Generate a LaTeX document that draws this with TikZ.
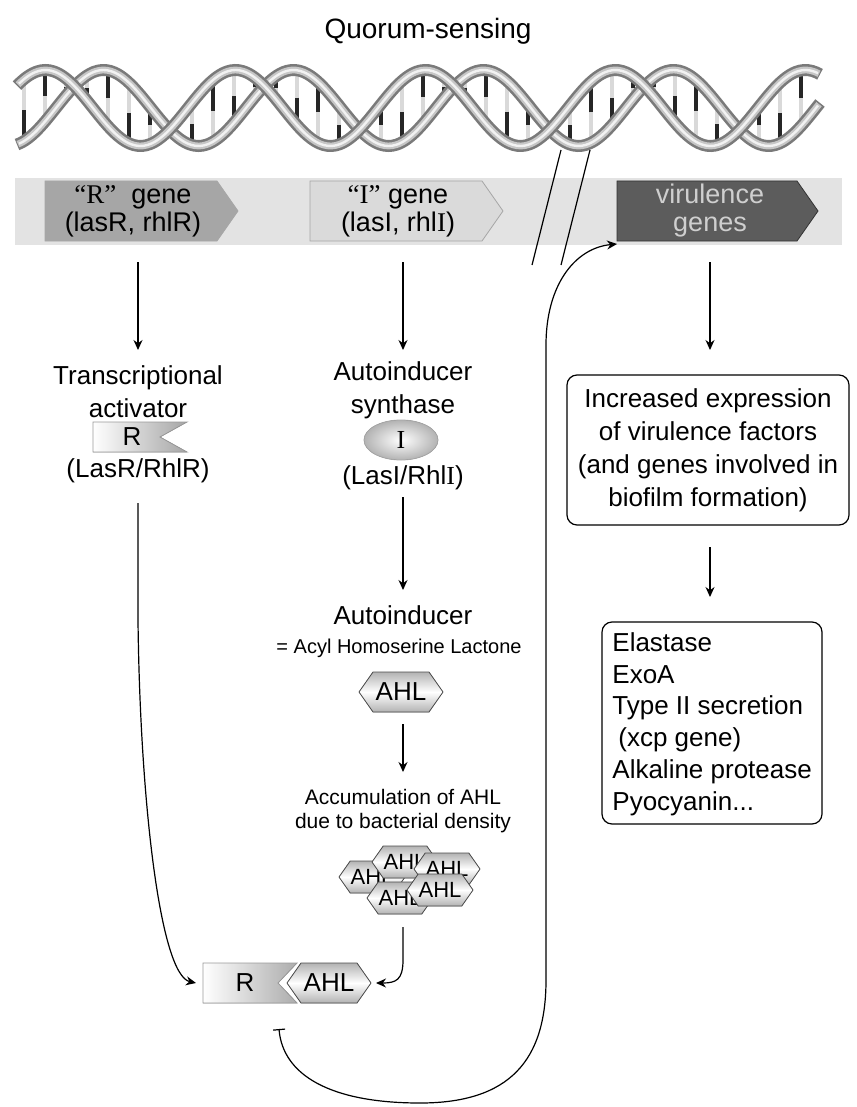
\documentclass[tikz,border=0pt]{standalone}
\usepackage{fontspec}
\setmainfont{Liberation Sans}
\newfontfamily\romanI{Liberation Serif}
\usetikzlibrary{calc, arrows.meta}

% AHL molecule as a flat hexagon: name, x, y, half width, half height, font size
\newcommand{\ahlHex}[6]{%
  \filldraw[hexFill] ({#2-#4},#3) -- ({#2-#4+0.7*#5},{#3-#5}) -- ({#2+#4-0.7*#5},{#3-#5})
    -- ({#2+#4},#3) -- ({#2+#4-0.7*#5},{#3+#5}) -- ({#2-#4+0.7*#5},{#3+#5}) -- cycle;
  \node[inner sep=0pt, font=\fontsize{#6}{#6}\selectfont] (#1) at (#2,#3) {AHL};
}

\begin{document}
\begin{tikzpicture}[x=0.5pt, y=-0.5pt,
    txt/.style={font=\fontsize{13}{16.5}\selectfont, align=center, inner sep=0pt},
    geneTxt/.style={font=\fontsize{13.5}{14}\selectfont, align=center, inner sep=0pt},
    smallTxt/.style={font=\fontsize{10.5}{12}\selectfont, align=center, inner sep=0pt},
    arr/.style={-{Stealth[length=5pt, width=4.5pt]}, line width=0.6pt},
    roundBox/.style={draw, line width=0.6pt, rounded corners=5pt, inner sep=0pt},
    hexFill/.style={draw=gray!60!black, line width=0.4pt, top color=gray!60, bottom color=gray!60, middle color=white}]
    % Define colours
    \definecolor{bandColour}{HTML}{E3E3E3}
    \definecolor{rGeneColour}{HTML}{A6A6A6}
    \definecolor{iGeneColour}{HTML}{DADADA}
    \definecolor{virGeneColour}{HTML}{5C5C5C}
    \definecolor{virTextColour}{HTML}{CFCFCF}
    \definecolor{strandColour}{HTML}{7A7A7A}

    % Macros for the double helix
    \def\dnaMid{108}    % centre line of the helix
    \def\dnaAmp{38}     % half height of the helix
    \def\dnaPeriod{190} % length of one turn
    \def\dnaShift{56}   % start of the first turn
    \def\dnaPhase{110}  % offset between the two strands

    \useasboundingbox (0,0) rectangle (856,1107);

    % Title
    \node[font=\fontsize{14}{16}\selectfont, inner sep=0pt] (title) at (428,31) {Quorum-sensing};

    % Base pairs of the helix
    \foreach \x [count=\i] in {24,45,...,815} {
        \pgfmathsetmacro{\ya}{\dnaMid-\dnaAmp*sin((\x-\dnaShift)/\dnaPeriod*360)}
        \pgfmathsetmacro{\yb}{\dnaMid-\dnaAmp*sin((\x-\dnaShift)/\dnaPeriod*360+\dnaPhase)}
        \pgfmathsetmacro{\ym}{(\ya+\yb)/2}
        \ifodd\i \def\topC{black!85}\def\botC{gray!30}\else \def\topC{gray!30}\def\botC{black!85}\fi
        \draw[line width=1.8pt, \topC] (\x,\ya) -- (\x,\ym);
        \draw[line width=1.8pt, \botC] (\x,\ym) -- (\x,\yb);
    }
    % Both strands of the helix
    \foreach \ph in {0,\dnaPhase} {
        \draw[line width=6pt, strandColour] plot[domain=17:820, samples=200, smooth]
            (\x,{\dnaMid-\dnaAmp*sin((\x-\dnaShift)/\dnaPeriod*360+\ph)});
        \draw[line width=3.4pt, gray!45] plot[domain=18:819, samples=200, smooth]
            (\x,{\dnaMid-\dnaAmp*sin((\x-\dnaShift)/\dnaPeriod*360+\ph)});
        \draw[line width=1.2pt, gray!10] plot[domain=19:818, samples=200, smooth]
            (\x,{\dnaMid-\dnaAmp*sin((\x-\dnaShift)/\dnaPeriod*360+\ph)});
    }

    % Gene band
    \fill[bandColour] (15,178) rectangle (842,245);
    \filldraw[fill=rGeneColour, draw=gray!70, line width=0.4pt] (45,181) -- (217,181) -- (238,211) -- (217,241) -- (45,241) -- cycle;
    \filldraw[fill=iGeneColour, draw=gray!70, line width=0.4pt] (310,181) -- (482,181) -- (503,211) -- (482,241) -- (310,241) -- cycle;
    \filldraw[fill=virGeneColour, draw=gray!40!black, line width=0.4pt] (617,181) -- (797,181) -- (818,211) -- (797,241) -- (617,241) -- cycle;
    \node[geneTxt] (rGene) at (133,211) {{\romanI “R”}\ \ gene\\(lasR, rhlR)};
    \node[geneTxt] (iGene) at (398,211) {{\romanI “I”} gene\\(lasI, rhl{\romanI I})};
    \node[geneTxt, text=virTextColour] (virGene) at (710,211) {virulence\\genes};

    % Break marks on the chromosome
    \draw[line width=0.6pt] (561,150) -- (532,265);
    \draw[line width=0.6pt] (590,150) -- (561,265);

    % Arrows out of the genes
    \coordinate (rGeneOut) at (138,262);
    \coordinate (iGeneOut) at (403,262);
    \coordinate (virGeneOut) at (710,262);
    \coordinate (rActIn) at (138,350);
    \coordinate (iSynIn) at (403,350);
    \coordinate (exprIn) at (710,350);
    \draw[arr] (rGeneOut) -- (rActIn);
    \draw[arr] (iGeneOut) -- (iSynIn);
    \draw[arr] (virGeneOut) -- (exprIn);

    % Transcriptional activator R
    \node[txt] (rAct) at (138,392) {Transcriptional\\activator};
    \filldraw[left color=white, right color=gray!70, draw=gray!80, line width=0.4pt] (93,422) -- (187,422) -- (160,437) -- (187,452) -- (93,452) -- cycle;
    \node[txt] (rFlag) at (132,437) {R};
    \node[txt] (rName) at (138,471) {(LasR/RhlR)};

    % Autoinducer synthase I
    \node[txt] (iSyn) at (403,390) {Autoinducer\\synthase};
    \filldraw[inner color=white, outer color=gray!60, draw=gray!70, line width=0.4pt] (401,440) ellipse [x radius=37, y radius=20];
    \node[txt, font=\fontsize{13}{14}\romanI] (iOval) at (401,440) {I};
    \node[txt] (iName) at (403,478) {(LasI/Rhl{\romanI I})};

    % Autoinducer AHL
    \coordinate (iNameOut) at (403,497);
    \coordinate (aiIn) at (403,590);
    \draw[arr] (iNameOut) -- (aiIn);
    \node[txt] (ai) at (403,615) {Autoinducer};
    \node[font=\fontsize{10}{12}\selectfont, inner sep=0pt] (aiName) at (399,648) {= Acyl Homoserine Lactone};
    \ahlHex{ahl}{401}{692}{42}{20}{13}

    % Accumulation of AHL
    \coordinate (ahlOut) at (403,724);
    \coordinate (accIn) at (403,772);
    \draw[arr] (ahlOut) -- (accIn);
    \node[smallTxt] (acc) at (403,811) {Accumulation of AHL\\due to bacterial density};
    \ahlHex{ahlA}{372}{877}{33}{16}{11}
    \ahlHex{ahlB}{405}{862}{33}{16}{11}
    \ahlHex{ahlC}{447}{869}{33}{16}{11}
    \ahlHex{ahlD}{400}{898}{33}{16}{11}
    \ahlHex{ahlE}{440}{890}{33}{16}{11}

    % R-AHL complex
    \filldraw[left color=white, right color=gray!65, draw=gray!80, line width=0.4pt] (203,963) -- (297,963) -- (278,983) -- (297,1003) -- (203,1003) -- cycle;
    \node[txt] (rBound) at (245,983) {R};
    \ahlHex{ahlBound}{329}{983}{42}{20}{13}

    % R and AHL meet
    \coordinate (rNameOut) at (138,503);
    \coordinate (rBoundIn) at (196,983);
    \draw[arr] (rNameOut) -- (138,620) .. controls (140,800) and (160,975) .. (rBoundIn);
    \coordinate (clusterOut) at (403,927);
    \coordinate (ahlBoundIn) at (376,983);
    \draw[arr] (clusterOut) -- (403,960) .. controls (403,980) and (396,983) .. (ahlBoundIn);

    % Feedback from the complex to the virulence genes
    \coordinate (complexOut) at (279,1029);
    \coordinate (virGeneIn) at (617,244);
    \draw[{Bar[width=6pt]}-{Stealth[length=5pt, width=4.5pt]}, line width=0.6pt] (complexOut)
        .. controls (283,1075) and (330,1103) .. (420,1103)
        .. controls (510,1103) and (546,1060) .. (546,980) -- (546,345)
        .. controls (546,285) and (575,248) .. (virGeneIn);

    % Virulence factors
    \node[roundBox, txt, minimum width=141pt, minimum height=75pt] (expr) at (708,450)
        {Increased expression\\of virulence factors\\(and genes involved in\\biofilm formation)};
    \coordinate (exprOut) at (710,547);
    \coordinate (factorsIn) at (710,597);
    \draw[arr] (exprOut) -- (factorsIn);
    \node[roundBox, minimum width=110pt, minimum height=101pt] (factors) at (712,723) {};
    \node[anchor=north west, inner sep=0pt, align=left, font=\fontsize{13}{15.9}\selectfont] (factorList) at (612,632)
        {Elastase\\ExoA\\Type II secretion\\\hspace{3pt}(xcp gene)\\Alkaline protease\\Pyocyanin...};
\end{tikzpicture}
\end{document}
